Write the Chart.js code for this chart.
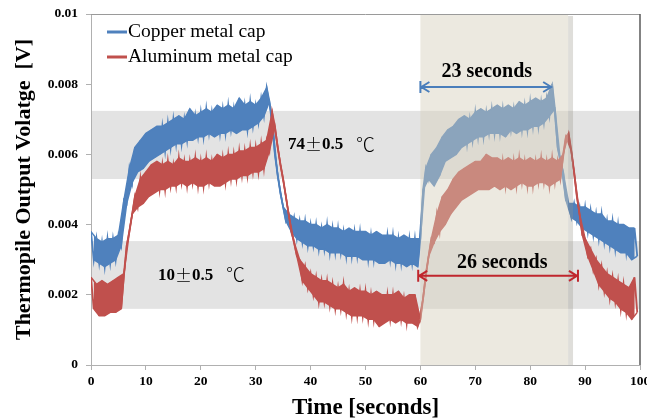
<!DOCTYPE html>
<html>
<head>
<meta charset="utf-8">
<script src="https://cdn.jsdelivr.net/npm/chart.js@4.4.1/dist/chart.umd.min.js"></script>
<style>
  html, body { margin: 0; padding: 0; background: #fff; }
  #wrap { width: 647px; height: 418px; }
</style>
</head>
<body>
<div id="wrap"><canvas id="chart"></canvas></div>
<script>
// samples every 0.5 s (mV), alternating upper / lower edge of the noisy trace
const sampleStep = 0.5;

const copperMV = [
  3.8, 3.0, 3.6, 2.9, 3.5, 2.8, 3.6, 2.9, 3.6, 3.0,
  3.7, 3.4, 4.7, 4.6, 5.6, 5.2, 6.2, 5.5, 6.4, 5.6,
  6.6, 5.8, 6.7, 5.9, 6.8, 6.0, 6.8, 6.1, 6.9, 6.2,
  7.0, 6.3, 7.1, 6.3, 7.0, 6.4, 7.3, 6.4, 7.1, 6.5,
  7.2, 6.5, 7.3, 6.6, 7.2, 6.5, 7.4, 6.6, 7.3, 6.6,
  7.4, 6.7, 7.3, 6.6, 7.6, 6.7, 7.4, 6.7, 7.5, 6.8,
  7.4, 6.9, 7.6, 7.1, 7.9, 7.5, 7.0, 6.0, 5.4, 4.9,
  4.5, 4.1, 4.3, 3.8, 4.2, 3.6, 4.1, 3.5, 4.1, 3.4,
  4.0, 3.4, 4.0, 3.3, 3.9, 3.3, 4.0, 3.2, 3.9, 3.2,
  3.9, 3.2, 3.8, 3.1, 3.9, 3.1, 3.8, 3.1, 3.8, 3.0,
  3.8, 3.0, 3.7, 3.0, 3.8, 2.9, 3.7, 2.9, 3.7, 3.0,
  3.7, 2.9, 3.6, 2.9, 3.7, 2.8, 3.6, 2.9, 3.6, 2.8,
  3.6, 5.0, 5.6, 5.3, 6.0, 5.1, 6.2, 5.4, 6.5, 5.8,
  6.7, 5.9, 6.8, 6.0, 7.0, 6.2, 7.1, 6.3, 7.0, 6.4,
  7.2, 6.5, 7.3, 6.5, 7.2, 6.6, 7.3, 6.6, 7.4, 6.6,
  7.3, 6.5, 7.4, 6.7, 7.3, 6.6, 7.5, 6.7, 7.4, 6.7,
  7.5, 6.8, 7.6, 6.8, 7.5, 6.9, 7.6, 7.1, 8.0, 7.3,
  6.2, 5.8, 5.5, 4.7, 4.6, 4.2, 4.6, 4.1, 4.5, 3.9,
  4.5, 3.8, 4.4, 3.7, 4.3, 3.6, 4.3, 3.5, 4.1, 3.4,
  4.1, 3.3, 4.0, 3.2, 4.0, 3.2, 3.9, 3.0, 3.9, 3.1
];

const aluminumMV = [
  2.5, 1.6, 2.3, 1.4, 2.4, 1.4, 2.3, 1.5, 2.4, 1.5,
  2.5, 1.6, 2.6, 3.4, 3.8, 4.3, 4.8, 4.5, 5.3, 4.6,
  5.5, 4.8, 5.7, 4.9, 5.8, 5.0, 5.7, 5.0, 5.8, 5.1,
  5.7, 5.1, 5.9, 5.2, 5.8, 5.1, 5.8, 5.2, 5.9, 5.1,
  5.8, 5.1, 5.9, 5.2, 5.8, 5.1, 6.0, 5.1, 5.9, 5.2,
  6.0, 5.3, 6.0, 5.3, 6.1, 5.4, 6.1, 5.4, 6.2, 5.5,
  6.2, 5.5, 6.3, 5.6, 6.4, 6.1, 7.2, 6.8, 6.2, 5.7,
  5.3, 4.8, 4.3, 3.8, 3.5, 3.1, 3.0, 2.4, 2.8, 2.2,
  2.6, 2.0, 2.5, 1.8, 2.4, 1.8, 2.4, 1.7, 2.3, 1.6,
  2.2, 1.6, 2.3, 1.5, 2.1, 1.4, 2.2, 1.4, 2.1, 1.4,
  2.1, 1.3, 2.0, 1.3, 2.1, 1.1, 2.0, 1.2, 2.0, 1.3,
  2.0, 1.2, 2.1, 1.3, 1.9, 1.2, 2.0, 1.2, 2.0, 1.1,
  1.3, 1.9, 2.6, 3.1, 3.6, 3.5, 4.3, 3.8, 4.8, 4.0,
  5.0, 4.3, 5.3, 4.5, 5.5, 4.7, 5.6, 4.8, 5.7, 4.9,
  5.8, 5.0, 5.8, 5.0, 6.0, 5.0, 5.9, 5.1, 5.9, 5.0,
  5.8, 5.1, 5.9, 5.0, 5.8, 5.1, 5.9, 5.2, 5.8, 5.1,
  5.9, 5.1, 5.8, 5.2, 5.9, 5.2, 5.8, 5.1, 5.9, 5.2,
  5.8, 5.3, 6.0, 6.5, 6.6, 6.1, 5.5, 4.8, 4.3, 3.7,
  3.6, 3.1, 3.3, 2.7, 3.0, 2.3, 2.8, 2.1, 2.6, 1.9,
  2.5, 1.8, 2.4, 1.6, 2.3, 1.5, 2.2, 1.3, 2.5, 1.5
];

const seriesNames = ['Copper metal cap', 'Aluminum metal cap'];

// temperature bands (mV) and their labels
const bandRanges = [[5.3, 7.24], [1.6, 3.53]];
const bandLabels = [
  { t: 35.9, v: 6.27, head: '74', tail: '0.5' },
  { t: 12.2, v: 2.56, head: '10', tail: '0.5' }
];

// shaded interval (s) and the two duration arrows
const shadedSpan = [60, 86.9, 87.8];
const arrowSpans = [
  { from: 60, to: 84, v: 7.92, text: '23 seconds', textT: 72.1, textV: 8.35, bars: [true, false] },
  { from: 59.6, to: 88.7, v: 2.54, text: '26 seconds', textT: 74.9, textV: 2.9, bars: [true, true] }
];

const SERIF = "'Liberation Serif', 'Times New Roman', serif";
const CJK = "'Noto Sans CJK JP', sans-serif";
const BLUE = '#4f81bd';
const RED = '#c0504d';
const ARROW_COLORS = ['#4a7ebb', '#c0262d'];

function toPoints(arr) {
  return arr.map((v, i) => ({ x: i * sampleStep, y: v }));
}
// upper edge = even samples, lower edge = odd samples
function edge(arr, parity) {
  return toPoints(arr).filter((p, i) => i % 2 === parity);
}

function traceDatasets(name, arr, color, order) {
  const common = { pointRadius: 0, tension: 0, order: order, borderColor: color };
  return [
    Object.assign({ label: name + ' top', data: edge(arr, 0), borderWidth: 1.5, fill: false }, common),
    Object.assign({ label: name + ' bottom', data: edge(arr, 1), borderWidth: 1.5, fill: '-1', backgroundColor: color }, common),
    Object.assign({ label: name, data: toPoints(arr), borderWidth: 1.8, fill: false }, common)
  ];
}

function drawParts(ctx, parts, x, y) {
  let cx = x;
  parts.forEach(([txt, font]) => {
    ctx.font = font;
    ctx.fillText(txt, cx, y);
    cx += ctx.measureText(txt).width;
  });
}

const decor = {
  id: 'decor',
  beforeDatasetsDraw(chart) {
    const { ctx, chartArea: a, scales: { y } } = chart;
    ctx.save();
    ctx.fillStyle = '#e3e3e3';
    bandRanges.forEach(([lo, hi]) => {
      const y1 = y.getPixelForValue(hi), y2 = y.getPixelForValue(lo);
      ctx.fillRect(a.left + 1, y1, a.right - a.left - 1, y2 - y1);
    });
    ctx.restore();
  },
  afterDatasetsDraw(chart) {
    const { ctx, chartArea: a, scales: { x, y } } = chart;
    ctx.save();

    // shaded window
    const sx0 = x.getPixelForValue(shadedSpan[0]);
    const sx1 = x.getPixelForValue(shadedSpan[1]);
    const sx2 = x.getPixelForValue(shadedSpan[2]);
    ctx.fillStyle = 'rgba(213,206,186,0.45)';
    ctx.fillRect(sx0, a.top + 1, sx1 - sx0, a.bottom - a.top - 1);
    ctx.fillStyle = 'rgba(150,145,132,0.3)';
    ctx.fillRect(sx1, a.top + 2, sx2 - sx1, a.bottom - a.top - 2);

    // plot frame (top and right)
    ctx.strokeStyle = '#9a9a9a';
    ctx.lineWidth = 1;
    ctx.beginPath();
    ctx.moveTo(a.left, a.top + 0.5);
    ctx.lineTo(a.right, a.top + 0.5);
    ctx.stroke();
    ctx.strokeStyle = '#5a5a5a';
    ctx.lineWidth = 1.5;
    ctx.beginPath();
    ctx.moveTo(a.right, a.top);
    ctx.lineTo(a.right, a.bottom);
    ctx.stroke();

    // band labels
    ctx.fillStyle = '#000';
    ctx.textBaseline = 'middle';
    ctx.textAlign = 'left';
    bandLabels.forEach(b => {
      drawParts(ctx, [
        [b.head, 'bold 17px ' + SERIF],
        ['\u00b1', '300 17px ' + CJK],
        [b.tail, 'bold 17px ' + SERIF],
        ['   ', 'bold 17px ' + SERIF],
        ['\u2103', '300 19px ' + CJK]
      ], x.getPixelForValue(b.t), y.getPixelForValue(b.v));
    });

    // duration arrows
    arrowSpans.forEach((s, i) => {
      const x1 = x.getPixelForValue(s.from), x2 = x.getPixelForValue(s.to);
      const py = y.getPixelForValue(s.v);
      ctx.strokeStyle = ARROW_COLORS[i];
      ctx.lineWidth = 2;
      ctx.beginPath();
      ctx.moveTo(x1 + 1, py);
      ctx.lineTo(x2 - 1, py);
      ctx.moveTo(x1 + 9, py - 5);
      ctx.lineTo(x1 + 1, py);
      ctx.lineTo(x1 + 9, py + 5);
      ctx.moveTo(x2 - 9, py - 5);
      ctx.lineTo(x2 - 1, py);
      ctx.lineTo(x2 - 9, py + 5);
      if (s.bars[0]) { ctx.moveTo(x1, py - 6); ctx.lineTo(x1, py + 6); }
      if (s.bars[1]) { ctx.moveTo(x2, py - 6); ctx.lineTo(x2, py + 6); }
      ctx.stroke();
      ctx.fillStyle = '#000';
      ctx.textAlign = 'center';
      ctx.font = 'bold 20px ' + SERIF;
      ctx.fillText(s.text, x.getPixelForValue(s.textT), y.getPixelForValue(s.textV));
    });

    // legend inside the plot
    const colors = [BLUE, RED];
    ctx.textAlign = 'left';
    ctx.font = '19.5px ' + SERIF;
    seriesNames.forEach((name, i) => {
      const ly = 32 + i * 25;
      ctx.strokeStyle = colors[i];
      ctx.lineWidth = 3;
      ctx.beginPath();
      ctx.moveTo(a.left + 16, ly);
      ctx.lineTo(a.left + 36, ly);
      ctx.stroke();
      ctx.fillStyle = '#000';
      ctx.fillText(name, a.left + 37, ly);
    });

    ctx.restore();
  }
};

const tickFont = { family: SERIF, size: 13.5, weight: 'bold' };

new Chart(document.getElementById('chart'), {
  type: 'line',
  data: {
    datasets: [].concat(
      traceDatasets(seriesNames[0], copperMV, BLUE, 1),
      traceDatasets(seriesNames[1], aluminumMV, RED, 0)
    )
  },
  options: {
    responsive: true,
    maintainAspectRatio: false,
    animation: false,
    devicePixelRatio: 1,
    layout: { padding: { top: 14, right: 7, left: 0, bottom: 0 } },
    plugins: {
      legend: { display: false },
      tooltip: { enabled: false },
      filler: { propagate: false }
    },
    scales: {
      x: {
        type: 'linear',
        min: 0,
        max: 100,
        ticks: { stepSize: 10, font: tickFont, color: '#000', padding: 3, maxRotation: 0, autoSkip: false },
        grid: { drawOnChartArea: false, drawTicks: true, tickLength: 5, color: '#b0b0b0' },
        border: { color: '#b0b0b0' },
        title: {
          display: true,
          text: 'Time [seconds]',
          color: '#000',
          font: { family: SERIF, size: 23, weight: 'bold', lineHeight: 0.9 },
          padding: { top: 0, bottom: 0 }
        },
        afterFit: s => { s.height = 53; s.paddingLeft = 0; s.paddingRight = 0; }
      },
      y: {
        min: 0,
        max: 10,
        ticks: {
          stepSize: 2,
          font: tickFont,
          color: '#000',
          padding: 8,
          callback: v => v === 0 ? '0' : String(Number((v / 1000).toFixed(3)))
        },
        grid: { drawOnChartArea: false, drawTicks: true, tickLength: 5, color: '#b0b0b0' },
        border: { color: '#b0b0b0' },
        title: {
          display: true,
          text: 'Thermopile Output Volatge  [V]',
          color: '#000',
          font: { family: SERIF, size: 22, weight: 'bold', lineHeight: 1.2 },
          padding: { top: 11, bottom: 0 }
        },
        afterFit: s => { s.width = 91; s.paddingTop = 0; s.paddingBottom = 0; }
      }
    }
  },
  plugins: [decor]
});
</script>
</body>
</html>
